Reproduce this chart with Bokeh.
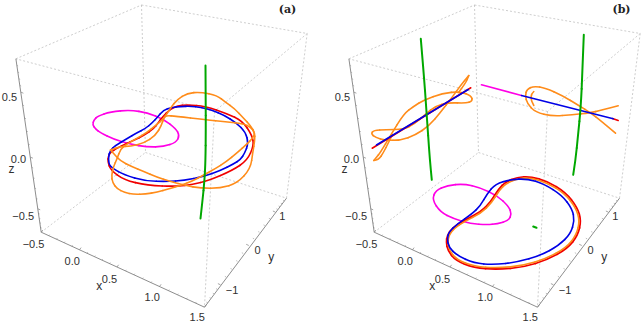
from bokeh.plotting import figure
from bokeh.models import Range1d
from bokeh.core.properties import value
from bokeh.embed import file_html
from bokeh.resources import INLINE

PANEL_OFFSET = 333

# box corners (picture position)
top_left = (15.4, 58.3); top_back = (141, 4.5); top_right = (306.7, 33); top_front = (214, 111)
bot_left = (40.7, 231.7); bot_back = (145, 152); bot_right = (286, 197.7); bot_front = (204, 306.7)

# axis major ticks
x_ticks = [(40.7, 231.7), (79, 249.3), (116.5, 266.5), (159, 286), (204, 306.7)]
y_ticks = [(220, 284.3), (248.3, 245), (275, 211.7)]
z_ticks = [(20.5, 91.7), (30, 156.7), (37.3, 208.3)]

# tick labels
x_labels = ["\u22120.5", "0.0", "0.5", "1.0", "1.5"]
x_label_pos = [(33, 243.7), (71.7, 260), (109, 278), (151.7, 296.7), (196.7, 316.7)]
y_labels = ["\u22121", "0", "1"]
y_label_pos = [(231.5, 289), (257, 249.3), (281.7, 215)]
z_labels = ["0.5", "0.0", "\u22120.5"]
z_label_pos = [(9, 96.7), (18, 158), (22.7, 215)]
axis_names = ["x", "y", "z"]
axis_name_pos = [(98.7, 285.7), (270.7, 256.7), (11, 168.3)]

# panel (a) curves
a_magenta = [(92,124),(93.5,119.5),(97,115.8),(110,111.2),(130,109.5),(146.7,112.2),(163.3,118.8),(175,127.8),(179.2,135),(175.5,142),(163.3,146.2),(146.7,146.5),(130,143.8),(113.3,138.8),(100,132.2),(95,128.5),(92,124)]
a_blue = [(108,157),(109.3,150),(115,145),(126.7,138),(136,132.5),(145,128),(151.5,122.5),(156.7,117),(163,109.5),(171,107),(180,106),(190,105.7),(200,106.7),(212,110),(223.3,114.5),(236,122.5),(245,131.5),(248,143),(244,153),(240,159),(233,163.5),(220,170),(203.3,176),(183.3,180),(166.7,181),(145,180.5),(123.3,174.3),(112.5,168),(108.3,164),(108,157)]
a_red = [(107.3,161),(107.7,156),(110,151.7),(117,147.5),(125,143.3),(134,139.5),(143.3,135),(153.3,128.3),(157.5,122.5),(161.7,116.7),(170,108.3),(177,105.5),(186.7,104.3),(205,105.7),(226.7,113.3),(241.7,120),(251.7,135),(253.3,145),(246.7,160),(231.7,170),(208.3,180),(192,184),(176.7,186),(146.7,185),(123.3,179.3),(110,169.3),(107.3,161)]
a_orange_1 = [(110,149.5),(110,149.5),(114,154),(120,160.5),(131,166),(143.3,171),(156,176.5),(170,181),(185,185),(200,187.7),(220,187.7),(236.7,182.7),(250,168.3),(252.3,151.7),(254.3,140),(254.3,131.7),(250,126.7),(243.3,123.3),(225,121.3),(205,119.3),(175,115.7),(166,115),(163.3,117),(161,125),(155,135),(143.3,142.7),(130,145.7),(120,146),(110,149.5)]
a_orange_2 = [(200,91.5),(186.7,92.7),(176.7,99),(170,107.3),(163.3,118.3),(155,125),(146.7,131.7),(136,138),(126.7,143.3),(120,148.5),(116.7,158),(113,166),(111,175),(112,182),(116.7,188.3),(124,192),(133.3,194),(145,193.5),(156.7,191.7),(168,188.5),(180,185),(192,180.5),(203.3,174.5),(215,168),(225,161.7),(237,152),(246.7,143.3),(252,138),(254.5,133),(250,125),(243.3,118),(234,108),(225,101.7),(216.7,95),(200,91.5)]
a_green = [(205,65),(205.2,100),(205.3,130),(205,160),(204,180),(202,200),(200,218)]

# panel (b) curves
b_magenta = [(431.7,199.3),(435,190),(446.7,185),(463.3,183.3),(480,187.3),(496.7,195),(508.3,206),(511,213.3),(508.3,220),(496.7,223.3),(486.7,224.3),(470,223.3),(453.3,218.3),(440,211.7),(431.7,199.3)]
b_blue = [(446.7,238.3),(448.3,231.7),(456.7,223.3),(471.7,213.3),(480,205),(486.7,193.3),(495,183.3),(510,179),(526.7,178.3),(543.3,183.3),(561.7,195),(571.7,208.3),(574,220),(570,233.3),(558.3,245),(540,255),(516.7,261.7),(493.3,264.3),(473.3,262.7),(456.7,255),(448.3,246.7),(446.7,238.3)]
b_red = [(445.7,241.7),(446.7,235),(451.7,227.3),(463.3,220),(480,211.7),(490,201.7),(498.3,188.3),(505,181.7),(516.7,176.7),(530,176),(546.7,180.7),(565,191.7),(576.7,206.7),(580.7,220),(577.3,235),(566.7,248.3),(546.7,259.3),(523.3,266.7),(496.7,269),(473.3,267.3),(455,260),(447.3,250),(445.7,241.7)]
b_orange = [(447.5,241.5),(448.2,235.5),(453,228.3),(464,221),(480.5,212.7),(491,202.5),(499,189.5),(505.7,183),(517,178),(530,177.3),(546,182),(564,192.8),(575.3,207.3),(579.2,220),(576,234.3),(565.8,247),(546,258),(523,265.2),(496.7,267.5),(473.7,266),(456,259),(448.5,249.5),(447.5,241.5)]
b_green_left = [(420.3,38.3),(423,70),(426,110),(429.3,160),(431.3,179.3)]
b_green_right = [(583.3,34.3),(582,70),(580.3,106.7),(577.5,135),(575,160),(572.7,174.3)]
b_green_floor = [(532.7,226),(536,227.3)]
b_left_red = [(371.7,147.7),(470.3,87.3)]
b_left_blue = [(376,144.5),(467.7,89)]
b_right_magenta = [(481,84.3),(521,95)]
b_right_blue = [(521,95),(612.7,118.3)]
b_right_red = [(612,118),(617.7,120)]
b_left_orange_outer = [(373.3,160),(376,157),(380,151.7),(390,135),(403.3,113.3),(413,106),(423.3,99.5),(441.7,92.8),(460,91),(471,95.5),(472,100.7),(465,102.8),(448.3,102),(435,105.5),(425,113.8),(413.3,123.8),(403.3,128.8),(385,129.3),(373.3,129.8),(370.5,133.3),(375,137),(385,139.8),(400,139.8),(415,134.5),(428.3,125.5),(440,112),(451.7,96.7),(460,85),(468.3,75),(468.3,75),(465,83),(458,92)]
b_left_orange_tip = [(373.3,160),(378,159.5),(383,152),(388,142),(392,134)]
b_right_orange = [(617.7,105.3),(600,110),(590,112.3),(571.7,114.3),(551.7,115.7),(535,111.7),(526.7,103.3),(524.8,95),(526.3,88.8),(533.3,85.6),(545,87.5),(561.7,95),(578.3,105),(590,112.3),(600,120),(615,132.7)]
b_right_orange_hook = [(533.3,91),(527.7,95.7),(533.3,105)]

BLUE = "#0000e6"; RED = "#f00000"; ORANGE = "#ff8c1a"; MAGENTA = "#ff00e6"; GREEN = "#00a800"
GRID = "#b8b8b8"; AXIS = "#808080"; TEXT = "#303030"

p = figure(width=642, height=322, x_range=Range1d(0, 642), y_range=Range1d(322, 0),
           output_backend="svg", toolbar_location=None, min_border=0,
           x_axis_location=None, y_axis_location=None,
           outline_line_color=None)
p.grid.visible = False


def curve(pts, color, width=1.6):
    """Draw the read points as control points of Bokeh quadratic curve glyphs."""
    xs = [q[0] for q in pts]
    ys = [q[1] for q in pts]
    if len(pts) == 2:
        p.line(xs, ys, line_color=color, line_width=width, line_cap="round")
        return
    closed = pts[0] == pts[-1]
    if closed:
        xs, ys = xs[:-1], ys[:-1]
        n = len(xs)
        idx = list(range(n))
    else:
        n = len(xs)
        idx = list(range(1, n - 1))
    x0, y0, x1, y1, cx, cy = [], [], [], [], [], []
    for i in idx:
        a, b = (i - 1) % n, (i + 1) % n
        sx = xs[a] if (not closed and i == 1) else (xs[a] + xs[i]) / 2
        sy = ys[a] if (not closed and i == 1) else (ys[a] + ys[i]) / 2
        ex = xs[b] if (not closed and i == n - 2) else (xs[b] + xs[i]) / 2
        ey = ys[b] if (not closed and i == n - 2) else (ys[b] + ys[i]) / 2
        x0.append(sx); y0.append(sy); x1.append(ex); y1.append(ey); cx.append(xs[i]); cy.append(ys[i])
    p.quadratic(x0=x0, y0=y0, x1=x1, y1=y1, cx=cx, cy=cy, line_color=color, line_width=width, line_cap="round")


def seg(a, b, off, color=GRID, width=0.7, dash="2 2"):
    p.line([a[0] + off, b[0] + off], [a[1], b[1]], line_color=color, line_width=width, line_dash=dash)


def label(pts, texts, off, size="11px"):
    p.text([q[0] + off for q in pts], [q[1] for q in pts], text=texts, text_align="center",
           text_baseline="middle", text_font=value("Liberation Sans"), text_font_size=size, text_color=TEXT)


def ticks(pts, d, off, ends=None):
    for i, (tx, ty) in enumerate(pts):
        seg((tx, ty), (tx + d[0], ty + d[1]), off, AXIS, 0.7, "solid")
    if ends:
        chain = [ends[0]] + pts + [ends[1]]
    else:
        chain = pts
    for a, b in zip(chain[:-1], chain[1:]):
        for k in range(1, 5):
            f = k / 5
            mx, my = a[0] + (b[0] - a[0]) * f, a[1] + (b[1] - a[1]) * f
            seg((mx, my), (mx + d[0] * 0.5, my + d[1] * 0.5), off, AXIS, 0.5, "solid")


def frame(off):
    for a, b in [(top_left, top_back), (top_back, top_right), (top_right, top_front), (top_front, top_left),
                 (bot_left, bot_back), (bot_back, bot_right),
                 (top_back, bot_back), (top_right, bot_right), (top_front, bot_front)]:
        seg(a, b, off)
    for a, b in [(top_left, bot_left), (bot_left, bot_front), (bot_front, bot_right)]:
        seg(a, b, off, AXIS, 0.9, "solid")
    ticks(x_ticks, (1.6, -2.2), off)
    ticks(y_ticks, (-2.6, -1.2), off, (bot_front, bot_right))
    ticks(z_ticks, (2.4, 1.0), off, (top_left, bot_left))
    label(x_label_pos, x_labels, off)
    label(y_label_pos, y_labels, off)
    label(z_label_pos, z_labels, off)
    label(axis_name_pos, axis_names, off, "12px")


frame(0)
frame(PANEL_OFFSET)

# panel (a)
curve(a_magenta, MAGENTA)
curve(a_red, RED)
curve(a_blue, BLUE)
curve(a_orange_1, ORANGE)
curve(a_orange_2, ORANGE)
curve(a_green, GREEN, 2)

# panel (b)
curve(b_magenta, MAGENTA)
curve(b_red, RED, 1.8)
curve(b_orange, ORANGE)
curve(b_blue, BLUE)
curve(b_left_orange_outer, ORANGE)
curve(b_left_orange_tip, ORANGE)
curve(b_left_red, RED)
curve(b_left_blue, BLUE)
curve(b_right_orange, ORANGE)
curve(b_right_orange_hook, ORANGE)
curve(b_right_magenta, MAGENTA)
curve(b_right_red, RED)
curve(b_right_blue, BLUE)
curve(b_green_left, GREEN, 2)
curve(b_green_right, GREEN, 2)
curve(b_green_floor, GREEN, 2)

p.text([287, 621], [9, 9], text=["(a)", "(b)"], text_align="center", text_baseline="middle",
       text_font=value("DejaVu Serif"), text_font_style="bold", text_font_size="11px", text_color="#222222")

open("out.html", "w").write(file_html(p, INLINE))
